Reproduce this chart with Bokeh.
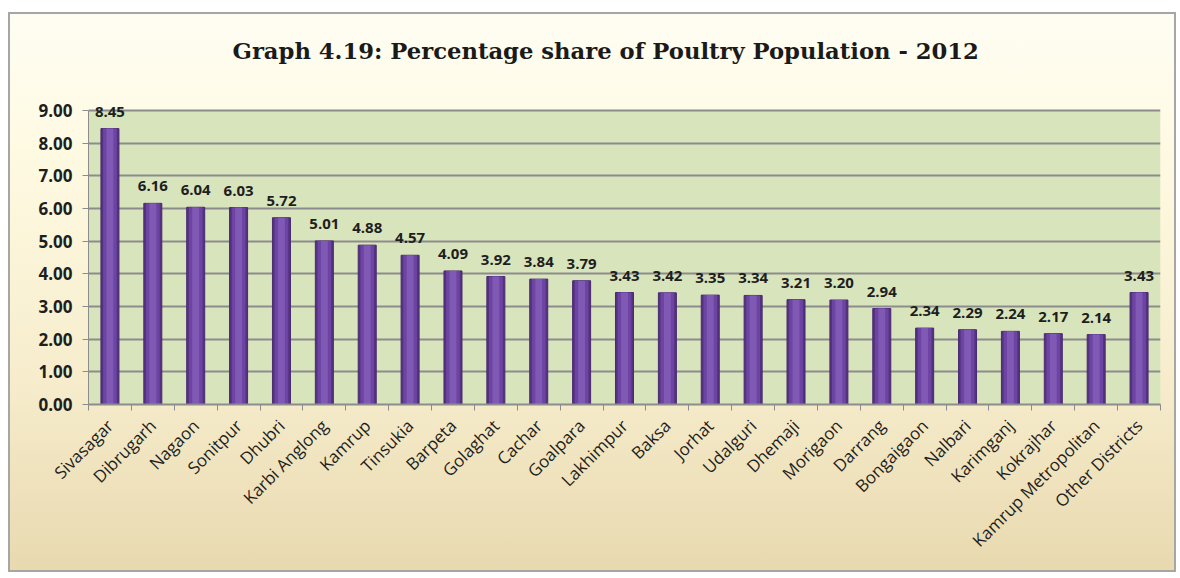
from bokeh.plotting import figure
from bokeh.models import ColumnDataSource, FixedTicker, LabelSet, Range1d
from bokeh.core.properties import value
from bokeh.embed import file_html
from bokeh.resources import INLINE
import math

districts = ["Sivasagar", "Dibrugarh", "Nagaon", "Sonitpur", "Dhubri", "Karbi Anglong",
             "Kamrup", "Tinsukia", "Barpeta", "Golaghat", "Cachar", "Goalpara",
             "Lakhimpur", "Baksa", "Jorhat", "Udalguri", "Dhemaji", "Morigaon",
             "Darrang", "Bongaigaon", "Nalbari", "Karimganj", "Kokrajhar",
             "Kamrup Metropolitan", "Other Districts"]
shares = [8.45, 6.16, 6.04, 6.03, 5.72, 5.01, 4.88, 4.57, 4.09, 3.92, 3.84, 3.79,
          3.43, 3.42, 3.35, 3.34, 3.21, 3.20, 2.94, 2.34, 2.29, 2.24, 2.17, 2.14, 3.43]
y_ticks = [0, 1, 2, 3, 4, 5, 6, 7, 8, 9]
y_max = 9

n = len(districts)
xs = [i + 0.5 for i in range(n)]
src = ColumnDataSource(dict(x=xs, top=shares, lab=["%.2f" % v for v in shares]))

p = figure(width=1168, height=560, output_backend="svg", toolbar_location=None,
           x_range=Range1d(0, n), y_range=Range1d(0, y_max + 0.8),
           title="Graph 4.19: Percentage share of Poultry Population - 2012")
p.min_border_left = 78
p.min_border_right = 18
p.min_border_bottom = 170
p.min_border_top = 70

p.border_fill_alpha = 0
p.styles = {"background": "linear-gradient(to bottom, #FFFDF3 0%, #FEFAE2 25%, #F7EDCD 65%, #E8D9AF 100%)",
            "border": "2px solid #A6A6A6",
            "margin-left": "8px", "margin-top": "12px"}
p.background_fill_alpha = 0
p.outline_line_color = None

# green plot area, up to the top tick only
p.quad(left=[0], right=[n], bottom=[0], top=[y_max], fill_color="#D8E4BC",
       line_color=None, level="image")

p.title.align = "left"
p.title.offset = 144
p.title.text_font = "DejaVu Serif"
p.title.text_font_style = "bold"
p.title.text_font_size = "22.7px"
p.title.text_color = "#1A1A1A"
p.title.standoff = 42

# bars with a simple shading
p.vbar(x="x", top="top", width=0.42, source=src, fill_color="#55327E", line_color="#4A2A70", line_width=1)
p.vbar(x="x", top="top", width=0.32, source=src, fill_color="#6C44A3", line_color=None)
p.vbar(x="x", top="top", width=0.16, source=src, fill_color="#8059B5", line_color=None)

labels = LabelSet(x="x", y="top", text="lab", source=src, text_align="center",
                  text_baseline="bottom", y_offset=12, text_font=value("Open Sans"),
                  text_font_style="bold", text_font_size="15px", text_color="#1E1E1E")
p.add_layout(labels)

p.yaxis.ticker = FixedTicker(ticks=y_ticks)
p.yaxis.bounds = (0, y_max)
p.yaxis.major_label_overrides = {t: "%.2f" % t for t in y_ticks}
p.yaxis.major_label_text_font = "Open Sans"
p.yaxis.major_label_text_font_style = "bold"
p.yaxis.major_label_text_font_size = "17px"
p.yaxis.major_label_text_color = "#1E1E1E"
p.yaxis.axis_line_color = "#8C8C8C"
p.yaxis.major_tick_line_color = "#8C8C8C"
p.yaxis.major_tick_in = 0
p.yaxis.major_tick_out = 6
p.yaxis.minor_tick_line_color = None
p.yaxis.major_label_standoff = 10

p.xaxis.ticker = FixedTicker(ticks=xs, minor_ticks=list(range(n + 1)))
p.xaxis.major_label_overrides = {x: d for x, d in zip(xs, districts)}
p.xaxis.major_label_orientation = math.pi / 4
p.xaxis.major_label_text_font = "Open Sans"
p.xaxis.major_label_text_font_size = "17px"
p.xaxis.major_label_text_color = "#1E1E1E"
p.xaxis.major_tick_line_color = None
p.xaxis.minor_tick_line_color = "#8C8C8C"
p.xaxis.minor_tick_in = 0
p.xaxis.minor_tick_out = 6
p.xaxis.axis_line_color = "#8C8C8C"
p.xaxis.axis_line_width = 2
p.xaxis.major_label_standoff = 12

p.xgrid.grid_line_color = None
p.ygrid.grid_line_color = "#8C8C8C"
p.ygrid.grid_line_width = 2

open("out.html", "w").write(file_html(p, INLINE))
